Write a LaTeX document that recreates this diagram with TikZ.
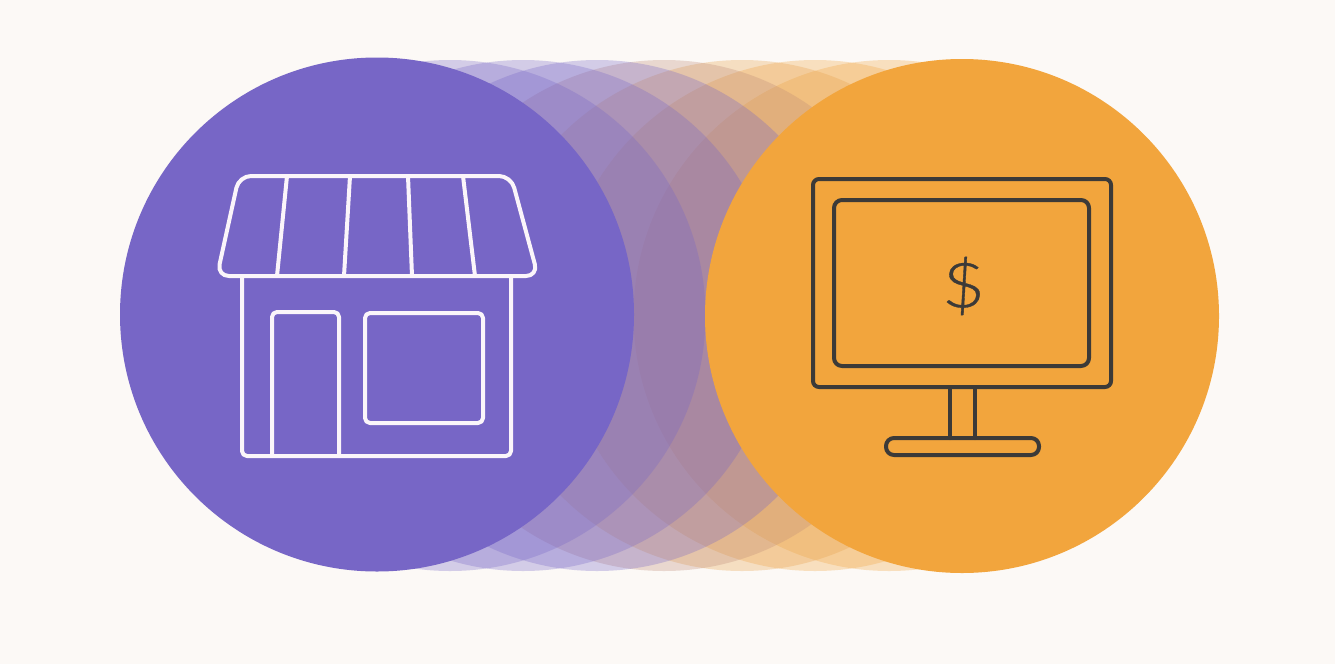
\documentclass[tikz,border=0pt]{standalone}
\usepackage{fontspec}
\newfontfamily\dollarfont[FakeBold=0.5]{Lato Light}
\definecolor{bgc}{HTML}{FCF9F6}
\definecolor{purp}{HTML}{7766C6}
\definecolor{oran}{HTML}{F2A53D}
\definecolor{ink}{HTML}{3C3A38}
\definecolor{shopline}{HTML}{FBF5FA}
\tikzset{
  x=1pt,y=-1pt,
  ghost/.style={fill=#1,fill opacity=.3,draw=none},
  shopstroke/.style={draw=shopline,line width=4pt,line join=round,line cap=round},
  pcstroke/.style={draw=ink,line width=4pt,line join=round,line cap=round}
}
\begin{document}
\begin{tikzpicture}
\fill[bgc] (0,0) rectangle (1335,664);
\useasboundingbox (0,0) rectangle (1335,664);
% fading circles between the two ends: orange below, purple above
\foreach \cx/\mix in {889/0,815/0,742/8,664/42}{
  \colorlet{stepc}{purp!\mix!oran}
  \fill[ghost=stepc] (\cx,315.5) circle[radius=255.5];
}
\foreach \cx in {597,523,450}{
  \fill[ghost=purp] (\cx,315.5) circle[radius=255.5];
}
\fill[purp] (377,314.5) circle[radius=257];
\fill[oran] (962,316) circle[radius=257];
% shop: awning
\draw[shopstroke,rounded corners=12pt] (239,176) -- (511,176) -- (538,276) -- (217,276) -- cycle;
\draw[shopstroke] (287,176) -- (277,276) (350,176) -- (344,276) (408,176) -- (412,276) (463,176) -- (475,276);
% shop: walls, door, window
\draw[shopstroke,rounded corners=5pt] (242,276) -- (242,456) -- (511,456) -- (511,276);
\draw[shopstroke,rounded corners=5pt] (272,456) -- (272,312) -- (339,312) -- (339,456);
\draw[shopstroke,rounded corners=5pt] (365,313) rectangle (483,423);
% monitor
\draw[pcstroke,rounded corners=6pt] (813,179) rectangle (1111,387);
\draw[pcstroke,rounded corners=8pt] (834,200) rectangle (1089,366);
\draw[pcstroke] (950,387) -- (950,438) (975,387) -- (975,438);
\draw[pcstroke,rounded corners=8pt] (886,438) rectangle (1039,455);
\node[text=ink,inner sep=0pt,xscale=1.2,font=\dollarfont\fontsize{62pt}{62pt}\selectfont] (dollar) at (963.5,286) {\$};
\end{tikzpicture}
\end{document}
